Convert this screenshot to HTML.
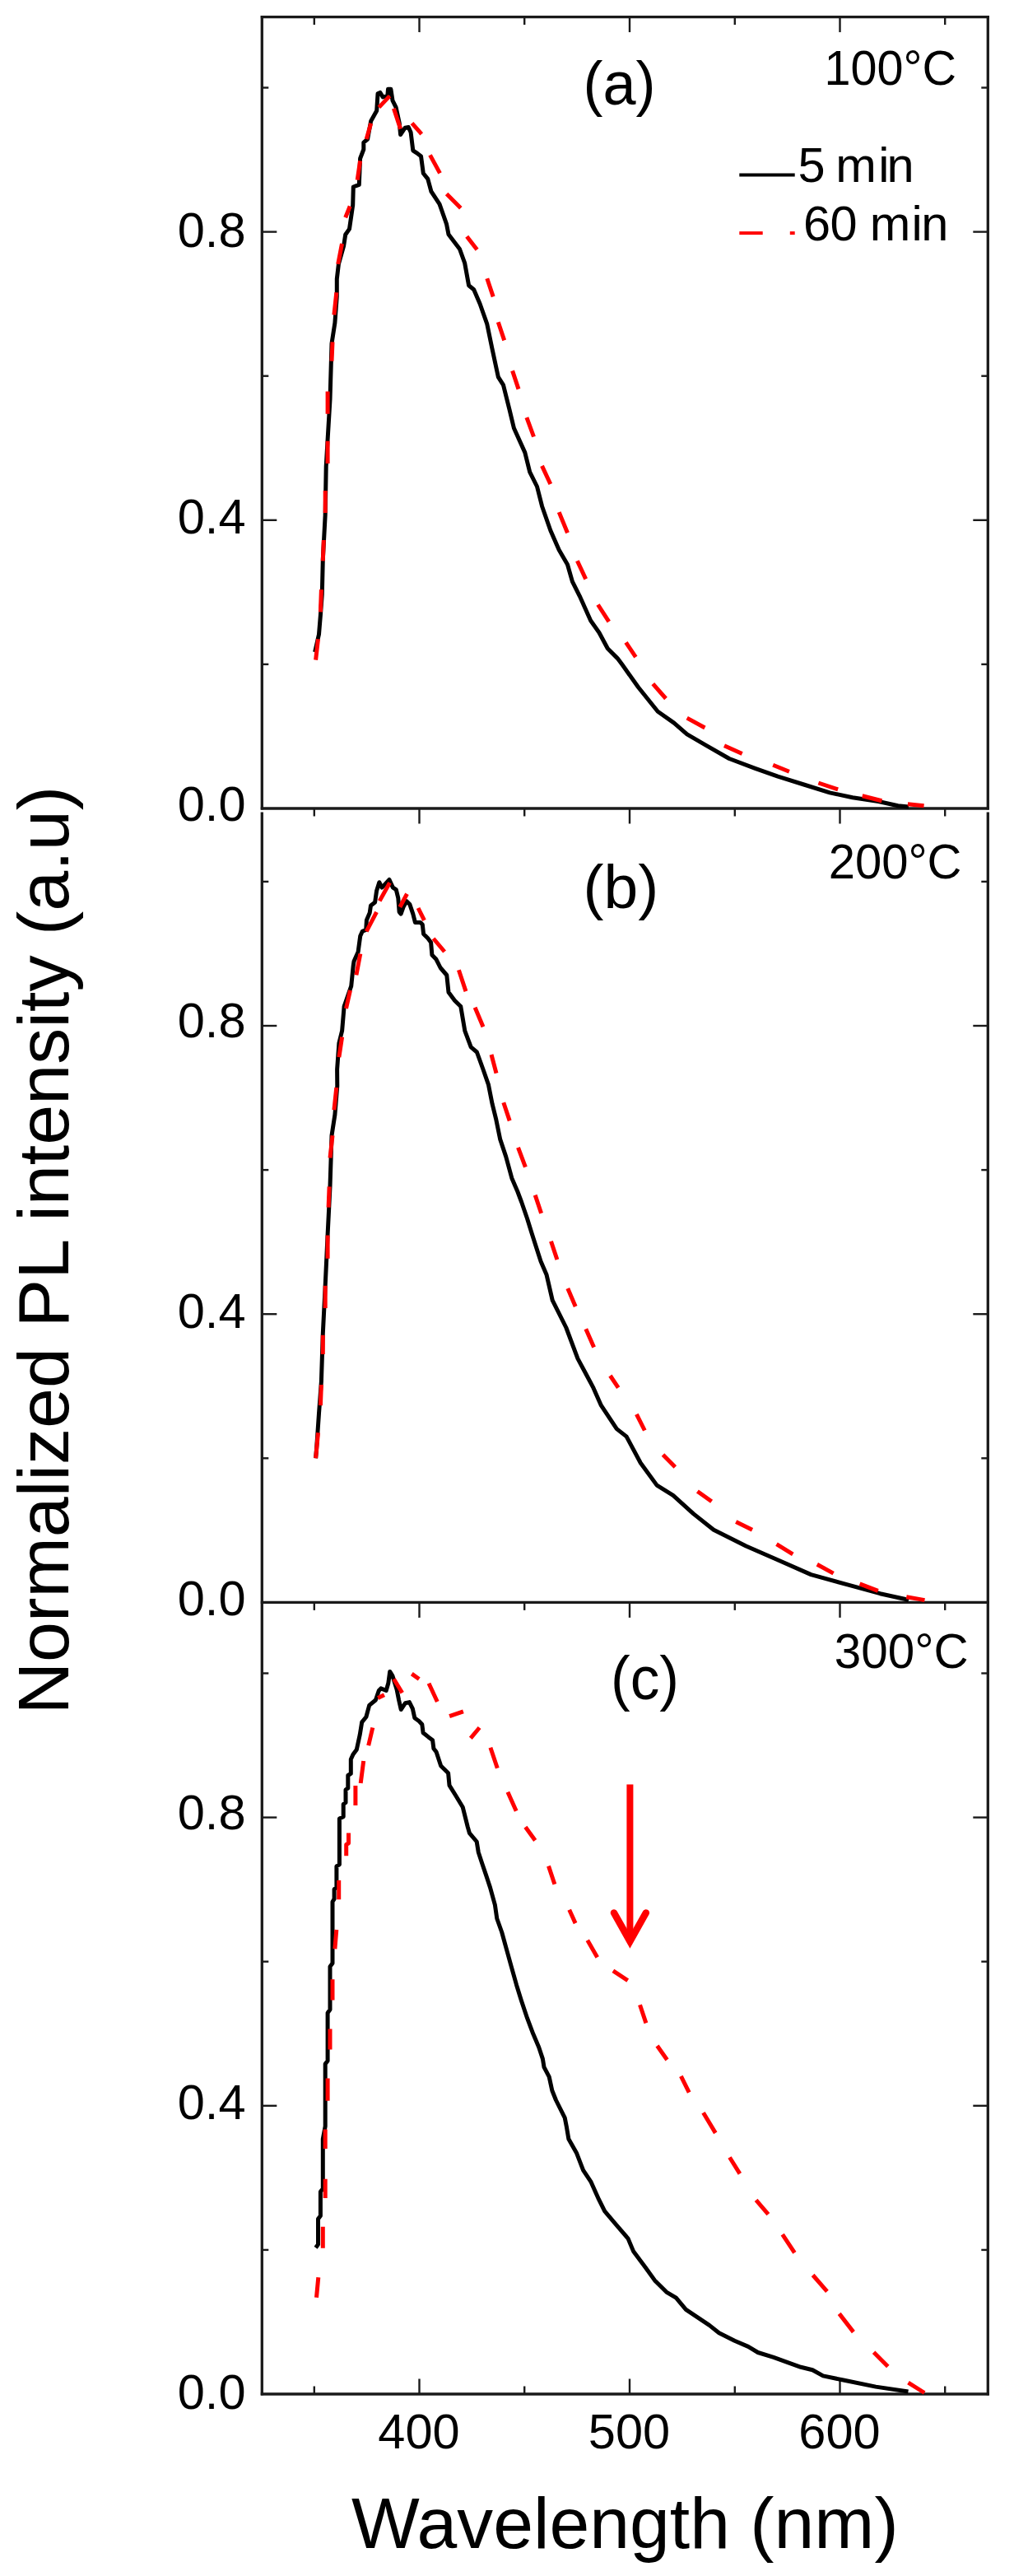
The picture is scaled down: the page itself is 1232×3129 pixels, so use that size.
<!DOCTYPE html><html><head><meta charset="utf-8"><style>html,body{margin:0;padding:0;background:#fff;}body{width:1232px;height:3129px;overflow:hidden;font-family:"Liberation Sans",sans-serif;}svg{display:block;}</style></head><body><svg width="1232" height="3129" viewBox="0 0 1232 3129">
<rect width="1232" height="3129" fill="#fff"/>
<g stroke="#1a1a1a" stroke-width="3.3" fill="none"><line x1="318.3" y1="19.1" x2="318.3" y2="983.6"/><line x1="1200.3" y1="19.1" x2="1200.3" y2="983.6"/><line x1="318.3" y1="986.6" x2="318.3" y2="2909.5"/><line x1="1200.3" y1="986.6" x2="1200.3" y2="2909.5"/><line x1="316.8" y1="20.6" x2="1201.8" y2="20.6"/><line x1="316.8" y1="982.0" x2="1201.8" y2="982.0"/><line x1="316.8" y1="1946.4" x2="1201.8" y2="1946.4"/><line x1="316.8" y1="2908.0" x2="1201.8" y2="2908.0"/></g>
<g stroke="#1a1a1a" stroke-width="2.4" fill="none"><line x1="381.8" y1="20.6" x2="381.8" y2="30.1"/><line x1="509.5" y1="20.6" x2="509.5" y2="39.1"/><line x1="637.2" y1="20.6" x2="637.2" y2="30.1"/><line x1="765.0" y1="20.6" x2="765.0" y2="39.1"/><line x1="892.8" y1="20.6" x2="892.8" y2="30.1"/><line x1="1020.5" y1="20.6" x2="1020.5" y2="39.1"/><line x1="1148.2" y1="20.6" x2="1148.2" y2="30.1"/><line x1="381.8" y1="982.0" x2="381.8" y2="991.5"/><line x1="509.5" y1="982.0" x2="509.5" y2="1000.5"/><line x1="637.2" y1="982.0" x2="637.2" y2="991.5"/><line x1="765.0" y1="982.0" x2="765.0" y2="1000.5"/><line x1="892.8" y1="982.0" x2="892.8" y2="991.5"/><line x1="1020.5" y1="982.0" x2="1020.5" y2="1000.5"/><line x1="1148.2" y1="982.0" x2="1148.2" y2="991.5"/><line x1="381.8" y1="1946.4" x2="381.8" y2="1955.9"/><line x1="509.5" y1="1946.4" x2="509.5" y2="1964.9"/><line x1="637.2" y1="1946.4" x2="637.2" y2="1955.9"/><line x1="765.0" y1="1946.4" x2="765.0" y2="1964.9"/><line x1="892.8" y1="1946.4" x2="892.8" y2="1955.9"/><line x1="1020.5" y1="1946.4" x2="1020.5" y2="1964.9"/><line x1="1148.2" y1="1946.4" x2="1148.2" y2="1955.9"/><line x1="381.8" y1="2908.0" x2="381.8" y2="2898.5"/><line x1="509.5" y1="2908.0" x2="509.5" y2="2889.5"/><line x1="637.2" y1="2908.0" x2="637.2" y2="2898.5"/><line x1="765.0" y1="2908.0" x2="765.0" y2="2889.5"/><line x1="892.8" y1="2908.0" x2="892.8" y2="2898.5"/><line x1="1020.5" y1="2908.0" x2="1020.5" y2="2889.5"/><line x1="1148.2" y1="2908.0" x2="1148.2" y2="2898.5"/><line x1="318.3" y1="806.9" x2="326.3" y2="806.9"/><line x1="1200.3" y1="806.9" x2="1192.3" y2="806.9"/><line x1="318.3" y1="631.8" x2="336.3" y2="631.8"/><line x1="1200.3" y1="631.8" x2="1182.3" y2="631.8"/><line x1="318.3" y1="456.7" x2="326.3" y2="456.7"/><line x1="1200.3" y1="456.7" x2="1192.3" y2="456.7"/><line x1="318.3" y1="281.6" x2="336.3" y2="281.6"/><line x1="1200.3" y1="281.6" x2="1182.3" y2="281.6"/><line x1="318.3" y1="106.5" x2="326.3" y2="106.5"/><line x1="1200.3" y1="106.5" x2="1192.3" y2="106.5"/><line x1="318.3" y1="1771.3" x2="326.3" y2="1771.3"/><line x1="1200.3" y1="1771.3" x2="1192.3" y2="1771.3"/><line x1="318.3" y1="1596.2" x2="336.3" y2="1596.2"/><line x1="1200.3" y1="1596.2" x2="1182.3" y2="1596.2"/><line x1="318.3" y1="1421.1" x2="326.3" y2="1421.1"/><line x1="1200.3" y1="1421.1" x2="1192.3" y2="1421.1"/><line x1="318.3" y1="1246.0" x2="336.3" y2="1246.0"/><line x1="1200.3" y1="1246.0" x2="1182.3" y2="1246.0"/><line x1="318.3" y1="1070.9" x2="326.3" y2="1070.9"/><line x1="1200.3" y1="1070.9" x2="1192.3" y2="1070.9"/><line x1="318.3" y1="2732.9" x2="326.3" y2="2732.9"/><line x1="1200.3" y1="2732.9" x2="1192.3" y2="2732.9"/><line x1="318.3" y1="2557.8" x2="336.3" y2="2557.8"/><line x1="1200.3" y1="2557.8" x2="1182.3" y2="2557.8"/><line x1="318.3" y1="2382.7" x2="326.3" y2="2382.7"/><line x1="1200.3" y1="2382.7" x2="1192.3" y2="2382.7"/><line x1="318.3" y1="2207.6" x2="336.3" y2="2207.6"/><line x1="1200.3" y1="2207.6" x2="1182.3" y2="2207.6"/><line x1="318.3" y1="2032.5" x2="326.3" y2="2032.5"/><line x1="1200.3" y1="2032.5" x2="1192.3" y2="2032.5"/></g>
<g font-family="Liberation Sans, sans-serif" fill="#000"><text x="298.5" y="299.5" font-size="59.5" text-anchor="end" >0.8</text><text x="298.5" y="647.5" font-size="59.5" text-anchor="end" >0.4</text><text x="298.5" y="997.0" font-size="59.5" text-anchor="end" >0.0</text><text x="298.5" y="1260.2" font-size="59.5" text-anchor="end" >0.8</text><text x="298.5" y="1612.7" font-size="59.5" text-anchor="end" >0.4</text><text x="298.5" y="1961.5" font-size="59.5" text-anchor="end" >0.0</text><text x="298.5" y="2222.3" font-size="59.5" text-anchor="end" >0.8</text><text x="298.5" y="2574.0" font-size="59.5" text-anchor="end" >0.4</text><text x="298.5" y="2926.1" font-size="59.5" text-anchor="end" >0.0</text><text x="509.0" y="2973.6" font-size="59.5" text-anchor="middle" >400</text><text x="764.5" y="2973.6" font-size="59.5" text-anchor="middle" >500</text><text x="1020.0" y="2973.6" font-size="59.5" text-anchor="middle" >600</text><text x="1001.5" y="102.8" font-size="59.5" text-anchor="start" textLength="160.6" lengthAdjust="spacingAndGlyphs">100°C</text><text x="1006.7" y="1066.8" font-size="59.5" text-anchor="start" textLength="161.8" lengthAdjust="spacingAndGlyphs">200°C</text><text x="1013.7" y="2025.8" font-size="59.5" text-anchor="start" textLength="163" lengthAdjust="spacingAndGlyphs">300°C</text><text x="708.5" y="126.5" font-size="75" text-anchor="start" textLength="88" lengthAdjust="spacingAndGlyphs">(a)</text><text x="708.5" y="1102.5" font-size="75" text-anchor="start" >(b)</text><text x="742.0" y="2063.5" font-size="75" text-anchor="start" textLength="83" lengthAdjust="spacingAndGlyphs">(c)</text><text x="969.4 1015.25 1067.2 1077.55" y="220.8" font-size="59.5">5min</text><text x="975.9 1008.6 1056.65 1107.5 1119.35" y="291.5" font-size="59.5">60min</text><text x="427.0" y="3094.7" font-size="87" text-anchor="start" textLength="664.6" lengthAdjust="spacingAndGlyphs">Wavelength (nm)</text><text transform="translate(83.4,2082.5) rotate(-90)" font-size="87" textLength="1127.5" lengthAdjust="spacingAndGlyphs">Normalized PL intensity (a.u)</text></g>
<line x1="898.3" y1="212.6" x2="965.7" y2="212.6" stroke="#000" stroke-width="4"/>
<line x1="898.3" y1="283.1" x2="926.7" y2="283.1" stroke="#f00" stroke-width="4"/>
<line x1="959.8" y1="283.1" x2="965.7" y2="283.1" stroke="#f00" stroke-width="4"/>
<path d="M382.6,792.0 L387.5,770.5 L389.4,747.2 L391.3,722.0 L392.3,679.3 L395.2,625.0 L396.2,566.8 L398.1,533.8 L401.0,485.2 L403.0,417.3 L406.9,392.1 L409.3,360.0 L409.3,338.9 L411.4,320.9 L417.6,298.8 L419.7,285.0 L424.5,278.1 L428.7,249.1 L429.3,227.0 L436.3,224.3 L437.6,192.5 L441.8,181.5 L441.8,173.2 L446.6,169.0 L450.7,146.9 L457.7,134.5 L459.0,113.8 L461.8,112.4 L465.2,117.9 L470.8,116.6 L471.5,108.3 L474.9,108.3 L477.0,122.1 L481.1,130.4 L485.3,149.7 L486.6,163.5 L492.2,155.2 L496.3,154.5 L499.1,160.7 L501.8,182.8 L506.0,185.6 L511.5,189.7 L514.3,210.5 L519.8,217.4 L523.9,232.5 L529.4,240.8 L534.0,247.8 L542.6,272.4 L545.0,284.8 L558.5,302.5 L564.7,319.7 L569.6,346.8 L575.7,351.8 L583.1,369.0 L591.8,393.7 L597.9,423.3 L605.3,457.8 L611.5,467.7 L618.9,497.2 L624.4,520.0 L637.8,549.6 L643.7,573.3 L652.5,591.0 L658.5,614.7 L668.8,644.3 L679.2,667.9 L689.5,685.7 L695.4,706.4 L704.3,724.1 L717.6,753.7 L728.0,768.5 L738.3,787.8 L750.2,799.6 L755.8,807.1 L775.5,834.7 L799.2,864.3 L818.9,878.1 L834.7,891.9 L858.3,905.7 L886.0,921.5 L917.5,933.3 L945.1,943.2 L976.7,953.0 L1008.2,962.9 L1035.9,968.8 L1067.4,973.5 L1091.1,978.7 L1104.0,980.0" stroke="#000" stroke-width="5" fill="none" stroke-linejoin="round"/>
<path d="M383.6,1771.3 L384.6,1759.6 L387.5,1716.9 L390.4,1678.1 L392.3,1619.9 L395.2,1561.7 L398.1,1499.6 L401.0,1441.4 L403.0,1379.3 L406.9,1354.0 L409.8,1319.1 L409.6,1299.0 L411.9,1267.0 L415.6,1252.2 L418.1,1222.6 L426.7,1197.9 L429.2,1173.3 L430.0,1167.8 L435.1,1156.3 L437.7,1137.1 L440.3,1131.3 L444.7,1129.4 L445.4,1117.8 L449.2,1108.8 L450.5,1099.9 L455.6,1096.0 L457.6,1081.9 L460.8,1071.7 L464.0,1078.1 L473.0,1068.5 L477.4,1078.1 L481.3,1080.6 L483.8,1090.9 L485.1,1107.6 L487.1,1110.1 L490.3,1101.2 L494.1,1094.7 L497.9,1098.6 L501.8,1110.1 L504.4,1120.4 L510.8,1120.4 L513.3,1123.0 L514.6,1134.5 L519.7,1139.6 L523.6,1144.7 L524.9,1160.1 L530.0,1165.3 L535.1,1175.5 L542.8,1184.5 L545.0,1205.3 L552.4,1215.2 L559.8,1222.6 L564.8,1252.2 L572.2,1271.9 L579.4,1278.0 L587.0,1299.0 L593.4,1317.3 L598.1,1340.9 L602.8,1359.9 L607.6,1383.6 L614.7,1404.9 L621.8,1430.9 L628.9,1447.5 L633.6,1460.0 L640.5,1480.0 L646.4,1498.9 L657.0,1532.1 L664.1,1548.6 L671.2,1579.4 L687.8,1612.5 L702.0,1650.4 L712.0,1669.0 L721.0,1685.9 L730.4,1707.2 L749.3,1735.6 L761.1,1744.9 L778.3,1777.0 L798.1,1804.1 L817.8,1816.4 L842.4,1838.6 L867.1,1858.3 L906.5,1878.0 L946.0,1895.3 L985.4,1912.6 L1029.8,1924.9 L1069.3,1935.7 L1098.9,1942.2 L1104.0,1944.0" stroke="#000" stroke-width="5" fill="none" stroke-linejoin="round"/>
<path d="M383.6,2730.2 L386.5,2726.3 L386.5,2695.3 L389.4,2691.4 L389.4,2662.3 L392.3,2658.4 L392.3,2598.3 L395.2,2582.7 L395.2,2507.1 L398.1,2503.2 L398.1,2445.0 L401.0,2441.1 L401.0,2388.7 L404.0,2384.8 L404.0,2310.0 L406.1,2306.7 L406.1,2294.8 L408.9,2292.7 L408.9,2266.9 L412.4,2264.8 L412.4,2209.0 L417.2,2206.8 L417.2,2191.5 L420.0,2189.4 L420.0,2174.0 L422.8,2171.9 L422.8,2156.5 L426.3,2154.4 L426.3,2137.0 L429.0,2131.0 L433.3,2125.3 L437.2,2107.3 L439.7,2091.9 L444.9,2085.5 L448.7,2071.4 L456.4,2065.0 L460.3,2053.5 L462.8,2050.9 L469.2,2053.5 L471.8,2044.5 L473.7,2030.4 L476.9,2035.5 L482.1,2052.2 L484.6,2065.0 L487.2,2076.5 L492.3,2068.8 L497.4,2067.6 L501.3,2075.3 L503.8,2086.8 L509.0,2090.6 L512.8,2094.5 L514.1,2104.7 L520.5,2109.9 L525.6,2113.7 L526.9,2124.0 L530.0,2127.8 L535.7,2145.0 L544.6,2153.8 L546.0,2168.6 L553.4,2180.5 L562.3,2195.3 L568.2,2218.9 L570.4,2226.6 L579.2,2237.0 L581.3,2250.0 L586.0,2264.2 L590.8,2278.4 L595.5,2292.6 L601.4,2313.9 L603.8,2330.5 L609.7,2347.0 L615.6,2368.3 L621.5,2389.6 L627.5,2410.9 L633.4,2429.9 L640.5,2451.2 L647.6,2470.1 L654.7,2486.7 L659.4,2500.9 L661.0,2510.8 L667.2,2522.6 L670.8,2539.2 L675.5,2551.0 L686.2,2572.3 L688.5,2584.1 L690.9,2598.3 L700.4,2614.9 L708.6,2636.2 L718.1,2650.4 L727.6,2671.7 L734.7,2685.9 L748.9,2702.5 L763.1,2719.1 L769.5,2734.4 L783.7,2753.4 L795.5,2769.9 L809.7,2784.1 L821.5,2791.2 L833.4,2805.4 L847.6,2814.9 L861.8,2824.4 L873.6,2833.8 L892.5,2843.3 L909.1,2850.4 L920.9,2857.5 L939.9,2863.4 L956.4,2869.3 L973.0,2875.3 L987.2,2878.8 L1000.0,2885.9 L1024.6,2891.0 L1064.1,2899.1 L1103.5,2905.0" stroke="#000" stroke-width="5" fill="none" stroke-linejoin="round"/>
<path d="M383.6,801.6 L386.5,776.3 M389.4,743.3 L390.4,716.2 M392.3,681.3 L393.3,656.0 M395.2,623.0 L395.2,595.9 M398.1,562.9 L398.1,535.7 M398.1,502.7 L398.1,475.5 M403.0,438.7 L404.0,415.4 M405.9,382.4 L408.8,355.2 M410.7,320.9 L415.5,296.0 M419.7,264.3 L425.2,250.5 M434.2,218.7 L437.6,195.3 M445.2,169.0 L450.7,149.7 M460.4,130.4 L473.5,116.6 M478.4,131.8 L486.6,156.6 M500.5,149.7 L512.2,162.8 M522.5,188.4 L534.5,210.4 M542.6,235.5 L559.8,252.7 M567.2,287.2 L579.6,303.3 M591.8,338.2 L599.2,360.4 M605.3,391.2 L612.7,413.4 M622.6,450.4 L630.0,472.6 M639.9,507.1 L648.5,530.5 M658.5,565.9 L668.8,588.0 M679.2,622.1 L689.5,647.2 M701.4,681.2 L711.7,703.4 M726.5,734.5 L739.8,755.2 M760.5,780.4 L772.4,798.1 M793.3,830.7 L809.0,848.5 M834.7,872.1 L856.4,884.0 M880.0,905.7 L901.7,915.5 M939.2,929.3 L958.9,937.2 M994.4,951.0 L1018.1,958.9 M1047.7,966.8 L1071.4,972.7 M1102.9,976.7 L1122.6,978.7 " stroke="#f00" stroke-width="5" fill="none" stroke-linecap="butt" stroke-linejoin="round"/>
<path d="M383.6,1771.3 L386.5,1740.2 M389.4,1707.2 L390.4,1682.0 M392.3,1645.1 L392.3,1621.8 M395.2,1588.9 L395.2,1561.7 M398.1,1528.7 L398.1,1500.6 M399.1,1466.6 L400.1,1441.4 M401.0,1406.4 L404.0,1379.3 M405.9,1348.2 L408.8,1321.0 M411.9,1284.2 L415.6,1259.6 M420.5,1225.0 L425.5,1202.9 M432.9,1184.4 L437.8,1158.5 M445.2,1131.4 L457.5,1107.9 M461.2,1094.4 L473.5,1072.2 M485.9,1101.8 L494.5,1085.7 M508.1,1103.0 L515.5,1117.8 M526.6,1140.0 L540.1,1156.0 M557.4,1178.2 L566.0,1204.1 M577.1,1223.8 L587.0,1247.2 M597.0,1281.0 L603.0,1303.7 M611.8,1339.2 L619.2,1361.4 M629.5,1393.9 L638.4,1417.6 M650.2,1451.6 L657.6,1473.8 M669.5,1507.8 L676.9,1530.0 M689.8,1565.0 L699.2,1587.0 M711.8,1614.2 L721.6,1636.4 M741.4,1671.0 L751.2,1685.7 M773.4,1717.8 L783.3,1737.5 M805.5,1767.1 L820.3,1781.9 M847.4,1811.5 L864.6,1823.8 M894.2,1848.5 L914.0,1858.3 M943.5,1875.6 L963.3,1887.9 M992.8,1900.2 L1012.6,1911.1 M1044.6,1923.9 L1066.8,1932.3 M1101.3,1939.7 L1123.5,1943.6 " stroke="#f00" stroke-width="5" fill="none" stroke-linecap="butt" stroke-linejoin="round"/>
<path d="M384.5,2790.7 L386.8,2766.3 M392.3,2730.8 L392.3,2704.7 M395.2,2670.1 L395.2,2646.8 M395.2,2609.9 L395.2,2586.6 M398.1,2551.7 L398.1,2524.5 M401.0,2489.6 L401.0,2464.4 M404.0,2429.4 L404.0,2404.2 M406.9,2367.3 L408.8,2344.0 M411.7,2307.2 L411.7,2283.9 M420.7,2254.3 L420.7,2240.4 L423.5,2239.0 L423.5,2226.4 M431.9,2193.0 L431.9,2169.0 M438.2,2166.0 L441.7,2139.0 M447.7,2120.3 L452.8,2098.5 M459.2,2062.6 L466.9,2058.7 M478.5,2039.5 L488.7,2056.2 M500.3,2033.1 L509.2,2039.5 M521.0,2044.8 L531.3,2067.0 M546.1,2084.7 L562.9,2078.8 M571.8,2111.4 L582.6,2098.5 M595.9,2122.7 L604.3,2147.8 M616.9,2176.7 L627.2,2199.7 M638.4,2219.2 L650.2,2235.5 M666.5,2266.6 L673.9,2288.8 M691.7,2319.8 L699.1,2336.1 M713.8,2356.8 L725.7,2377.5 M744.9,2393.8 L762.7,2405.6 M777.5,2435.2 L784.9,2457.4 M798.5,2485.0 L810.5,2502.0 M827.4,2521.9 L837.2,2541.6 M854.5,2566.3 L869.3,2590.9 M886.5,2620.5 L898.9,2640.3 M918.6,2672.3 L933.4,2689.6 M950.7,2714.2 L965.4,2736.4 M987.6,2763.5 L1004.9,2783.3 M1019.7,2810.4 L1036.9,2832.6 M1061.6,2857.2 L1078.8,2874.5 M1103.5,2894.2 L1123.2,2906.5 " stroke="#f00" stroke-width="5" fill="none" stroke-linecap="butt" stroke-linejoin="round"/>
<g stroke="#f00" fill="none"><line x1="765.4" y1="2167.5" x2="765.4" y2="2356" stroke-width="8"/><polyline points="746,2323.5 765.4,2358 784.8,2323.5" stroke-width="8.5" stroke-linejoin="miter" stroke-miterlimit="10" stroke-linecap="round"/></g>
</svg></body></html>
